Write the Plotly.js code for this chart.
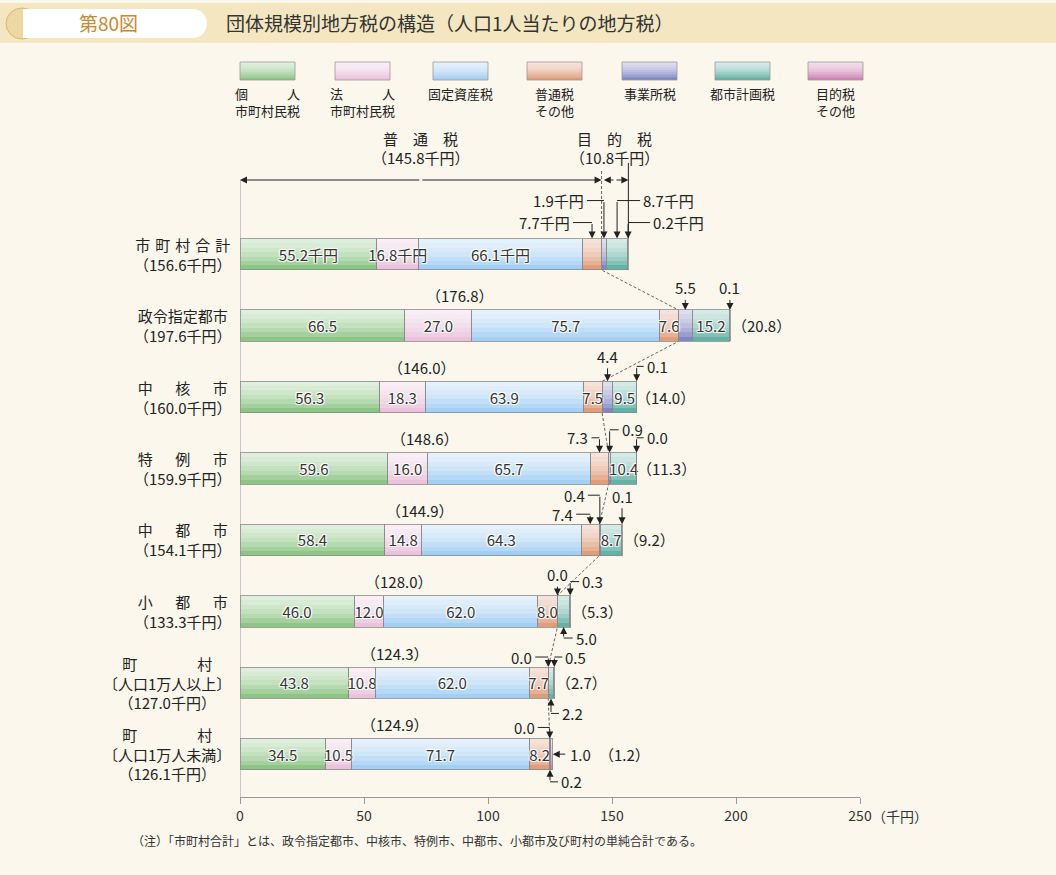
<!DOCTYPE html>
<html>
<head>
<meta charset="utf-8">
<script src="https://cdn.plot.ly/plotly-3.0.1.min.js"></script>
<style>
body{margin:0;background:#fbf7ec}
#chart{width:1056px;height:875px}
</style>
</head>
<body>
<div id="chart"></div>
<script>
// 団体規模別の内訳（千円）
const rowNames=['市\u2004町\u2004村\u2004合\u2004計','政令指定都市','中\u3000\u2002核\u3000\u2002市','特\u3000\u2002例\u3000\u2002市','中\u3000\u2002都\u3000\u2002市','小\u3000\u2002都\u3000\u2002市','町\u3000\u3000\u3000\u3000村<br>〔人口1万人以上〕','町\u3000\u3000\u3000\u3000村<br>〔人口1万人未満〕'];
const kojin=[55.2,66.5,56.3,59.6,58.4,46.0,43.8,34.5];
const houjin=[16.8,27.0,18.3,16.0,14.8,12.0,10.8,10.5];
const kotei=[66.1,75.7,63.9,65.7,64.3,62.0,62.0,71.7];
const futsuSonota=[7.7,7.6,7.5,7.3,7.4,8.0,7.7,8.2];
const jigyosho=[1.9,5.5,4.4,0.9,0.4,0.0,0.0,0.0];
const toshiKeikaku=[8.7,15.2,9.5,10.4,8.7,5.0,2.2,0.2];
const mokutekiSonota=[0.2,0.1,0.1,0.0,0.1,0.3,0.5,1.0];
const legendNames=['個\u3000\u3000\u3000人<br>市町村民税','法\u3000\u3000\u3000人<br>市町村民税','固定資産税','普通税<br>その他','事業所税','都市計画税','目的税<br>その他'];
const xTicks=[0,50,100,150,200,250];

const colors=['#8dc585','#eac2dc','#a2cff3','#df9d7a','#8085c4','#64b2a6','#d083b4'];
const gd=document.getElementById('chart');
const series=[kojin,houjin,kotei,futsuSonota,jigyosho,toshiKeikaku,mokutekiSonota];
const rows=rowNames.map((_,i)=>i);
const cum=[];
series.forEach((v,s)=>{cum[s]=v.map((x,r)=>x+(s?cum[s-1][r]:0));});
const futsu=rows.map(r=>cum[3][r]);
const total=rows.map(r=>cum[6][r]);
const mokuteki=rows.map(r=>total[r]-futsu[r]);
const fmt=v=>(Math.round(v*10)/10).toFixed(1);
const center=(s,r)=>cum[s][r]-series[s][r]/2;

// 画面の寸法
const L=240,R=860,T=120,B=797;
const yTop=-1.88,yBot=7.6;
const pxX=(R-L)/250, pxY=(B-T)/(yBot-yTop);
const yPx=py=>yTop+(py-T)/pxY;
const PX=px=>(px-L)/(R-L);
const PY=py=>(B-py)/(B-T);
const HB=0.22;
const font='"Noto Sans CJK JP","Noto Sans",sans-serif';

const insideRows=[[0,1,2,3,4,5,6,7],[0,1,2,3,4,5,6,7],[0,1,2,3,4,5,6,7],[1,2,5,6,7],[],[1,2,3,4],[]];
const halo='1px 1px 1px #fff, -1px -1px 1px #fff, 1px -1px 1px #fff, -1px 1px 1px #fff';
// 上端から重ねた半透明の白でグラデーション風にする
const nShine=6, shineA=0.2;
const bandH=2*HB/(nShine+1);

const traces=[];
series.forEach((v,s)=>traces.push({
  type:'bar',orientation:'h',y:rows,x:v,width:2*HB,
  marker:{color:colors[s],line:{width:0}},hoverinfo:'skip',showlegend:false
}));
series.forEach((v,s)=>{for(let k=1;k<=nShine;k++)traces.push({
  type:'bar',orientation:'h',y:rows,x:v,base:rows.map(r=>cum[s][r]-v[r]),
  offset:-HB,width:k*bandH,
  marker:{color:'rgba(255,255,255,'+shineA+')',line:{width:0}},hoverinfo:'skip',showlegend:false
});});
series.forEach((v,s)=>traces.push({
  type:'bar',orientation:'h',y:rows,x:v,base:rows.map(r=>cum[s][r]-v[r]),offset:-HB,width:2*HB,
  marker:{color:'rgba(0,0,0,0)',line:{color:'#8a8a8a',width:0.8}},
  text:rows.map(r=>insideRows[s].includes(r)?fmt(v[r])+(r===0?'千円':''):''),
  textposition:'inside',insidetextanchor:'middle',textangle:0,constraintext:'none',
  textfont:{size:15,color:'#333',family:font,shadow:halo},
  hoverinfo:'skip',showlegend:false
}));

const ann=[],shp=[];
const arrowStyle={showarrow:true,arrowhead:2,arrowsize:1.4,arrowwidth:1,arrowcolor:'#222',standoff:0};
function txt(o){ann.push(Object.assign({showarrow:false,xanchor:'center',yanchor:'middle',font:{size:15,color:'#222',family:font}},o));}
function arrow(o){ann.push(Object.assign({text:''},arrowStyle,o));}
function line(x0,y0,x1,y1,extra){shp.push(Object.assign({type:'line',xref:'x',yref:'y',x0,y0,x1,y1,line:{color:'#222',width:1}},extra||{}));}

// 目的税の引き出し線
const callouts=[
 {r:0,s:3,k:'L',h:16,w:19},{r:0,s:4,k:'L',h:38,w:17},{r:0,s:5,k:'R',h:38,w:23},{r:0,s:6,k:'R',h:16,w:22},
 {r:1,s:4,k:'T',h:22},{r:1,s:6,k:'T',h:22},
 {r:2,s:4,k:'T',h:25},{r:2,s:6,k:'R',h:15,w:7},
 {r:3,s:3,k:'L',h:15,w:8},{r:3,s:4,k:'R',h:23,w:9},{r:3,s:6,k:'R',h:15,w:7},
 {r:4,s:3,k:'L',h:10,w:14},{r:4,s:4,k:'L',h:29,w:12},{r:4,s:6,k:'T',h:28},
 {r:5,s:4,k:'T',h:21},{r:5,s:6,k:'R',h:14,w:9},{r:5,s:5,k:'B',h:11,w:9},
 {r:6,s:4,k:'L',h:10,w:13},{r:6,s:6,k:'R',h:10,w:8},{r:6,s:5,k:'B',h:15,w:8},
 {r:7,s:4,k:'L',h:11,w:12},{r:7,s:6,k:'S',w:14},{r:7,s:5,k:'B',h:12,w:8}
];
callouts.forEach(c=>{
  const label=fmt(series[c.s][c.r])+(c.r===0?'千円':'');
  const x=center(c.s,c.r), top=c.r-HB, bot=c.r+HB;
  if(c.k==='T'){
    ann.push(Object.assign({x,y:top,ax:0,ay:-c.h,text:label,font:{size:15,color:'#222',family:font}},arrowStyle));
  }else if(c.k==='L'||c.k==='R'){
    const yh=top-c.h/pxY, xt=x+(c.k==='L'?-1:1)*c.w/pxX;
    line(xt,yh,x,yh);
    arrow({x,y:top,ax:0,ay:-c.h});
    txt({x:xt,y:yh,text:label,xanchor:c.k==='L'?'right':'left',xshift:c.k==='L'?-1:1});
  }else if(c.k==='B'){
    const yh=bot+c.h/pxY, xt=x+c.w/pxX;
    line(x,yh,xt,yh);
    arrow({x,y:bot,ax:0,ay:c.h});
    txt({x:xt,y:yh,text:label,xanchor:'left',xshift:1});
  }else{
    arrow({x:total[c.r],y:c.r,ax:c.w,ay:0});
    txt({x:total[c.r],y:c.r,text:label,xanchor:'left',xshift:c.w+1});
  }
});

// 行ラベル、普通税合計、目的税合計
const rightShift=[0,0,-3,-2,0,-1,-1,44];
rows.forEach(r=>{
  txt({x:0,y:r,text:rowNames[r]+'<br>（'+fmt(total[r])+'千円）',xanchor:'right',xshift:-7,align:'center'});
  if(r>0){
    txt({x:futsu[r]/2,y:r-HB,yshift:14,text:'（'+fmt(futsu[r])+'）'});
    txt({x:total[r],y:r,text:'（'+fmt(mokuteki[r])+'）',xanchor:'left',xshift:rightShift[r]});
  }
});

// 上部の括弧と点線
const yb=yPx(180);
const mid0=futsu[0]/2, mid1=futsu[0]+mokuteki[0]/2;
arrow({x:0,y:yb,ax:mid0,ay:yb,axref:'x',ayref:'y'});
arrow({x:futsu[0],y:yb,ax:mid0,ay:yb,axref:'x',ayref:'y'});
arrow({x:futsu[0]+0.9,y:yb,ax:mid1,ay:yb,axref:'x',ayref:'y'});
arrow({x:total[0],y:yb,ax:mid1,ay:yb,axref:'x',ayref:'y'});
txt({x:mid0,y:yPx(138),text:'普\u2003通\u2003税'});
txt({x:mid0,y:yPx(157),text:'（'+fmt(futsu[0])+'千円）'});
txt({x:mid1,y:yPx(138),text:'目\u2003的\u2003税'});
txt({x:mid1,y:yPx(157),text:'（'+fmt(mokuteki[0])+'千円）'});
line(total[0],yPx(163),total[0],-HB);
let path='M'+futsu[0]+','+yPx(171);
rows.forEach(r=>{path+=' L'+futsu[r]+','+(r-HB)+' L'+futsu[r]+','+(r+HB);});
shp.push({type:'path',xref:'x',yref:'y',path,layer:'below',line:{color:'#555',width:0.9,dash:'3px,2px'}});
line(0,yb,0,yBot,{line:{color:'#999',width:1}});

// 凡例
const legX=[240,335,433,527,622,715,808];
legendNames.forEach((n,s)=>{
  const y0=62,y1=80,bh=(y1-y0)/(nShine+1);
  shp.push({type:'rect',xref:'paper',yref:'paper',x0:PX(legX[s]),x1:PX(legX[s]+55),y0:PY(y1),y1:PY(y0),fillcolor:colors[s],line:{width:0}});
  for(let k=1;k<=nShine;k++)shp.push({type:'rect',xref:'paper',yref:'paper',x0:PX(legX[s]),x1:PX(legX[s]+55),y0:PY(y0+k*bh),y1:PY(y0),fillcolor:'rgba(255,255,255,'+shineA+')',line:{width:0}});
  shp.push({type:'rect',xref:'paper',yref:'paper',x0:PX(legX[s]),x1:PX(legX[s]+55),y0:PY(y1),y1:PY(y0),fillcolor:'rgba(0,0,0,0)',line:{color:'#999',width:0.8}});
  ann.push({xref:'paper',yref:'paper',x:PX(legX[s]+27.5),y:PY(82),xanchor:'center',yanchor:'top',text:n,showarrow:false,align:'center',font:{size:13,color:'#222',family:font}});
});

// 見出し
shp.push({type:'rect',xref:'paper',yref:'paper',x0:PX(0),x1:PX(1056),y0:PY(43),y1:PY(3),fillcolor:'#f3e6c0',line:{width:0}});
shp.push({type:'circle',xref:'paper',yref:'paper',x0:PX(6),x1:PX(38),y0:PY(39),y1:PY(8),fillcolor:'#edd7a2',line:{color:'#d9b676',width:1}});
const P=(x,y)=>PX(x)+','+PY(y);
shp.push({type:'path',xref:'paper',yref:'paper',path:'M'+P(23,9)+' L'+P(192,9)+' C'+P(201,9)+' '+P(207,15)+' '+P(207,23.5)+' C'+P(207,32)+' '+P(201,38)+' '+P(192,38)+' L'+P(23,38)+' Z',fillcolor:'#ffffff',line:{width:0}});
ann.push({xref:'paper',yref:'paper',x:PX(108),y:PY(23),xanchor:'center',yanchor:'middle',text:'第80図',showarrow:false,font:{size:19,color:'#c48a35',family:font}});
ann.push({xref:'paper',yref:'paper',x:PX(224),y:PY(23),xanchor:'left',yanchor:'middle',text:'団体規模別地方税の構造（人口1人当たりの地方税）',showarrow:false,font:{size:19,color:'#333',family:font}});
ann.push({xref:'x',yref:'paper',x:250,y:0,yanchor:'top',yshift:-7,xanchor:'left',xshift:10,text:'（千円）',showarrow:false,font:{size:14,color:'#333',family:font}});
ann.push({xref:'paper',yref:'paper',x:PX(130),y:PY(840),xanchor:'left',yanchor:'middle',text:'（注）「市町村合計」とは、政令指定都市、中核市、特例市、中都市、小都市及び町村の単純合計である。',showarrow:false,font:{size:12,color:'#333',family:font}});

const layout={
  width:1056,height:875,
  margin:{l:L,r:1056-R,t:T,b:875-B},
  paper_bgcolor:'#fbf7ec',plot_bgcolor:'#fbf7ec',
  barmode:'stack',bargap:0,
  font:{family:font,color:'#333'},
  xaxis:{range:[0,250],tickvals:xTicks,ticktext:xTicks.map(String),showline:true,linecolor:'#999',linewidth:1,
    ticks:'outside',ticklen:6,tickcolor:'#999',showgrid:false,zeroline:false,tickfont:{size:14,color:'#333'},fixedrange:true},
  yaxis:{range:[yBot,yTop],showline:false,showticklabels:false,showgrid:false,zeroline:false,ticks:'',fixedrange:true},
  annotations:ann,shapes:shp
};
Plotly.newPlot(gd,traces,layout,{displayModeBar:false,staticPlot:true});
</script>
</body>
</html>
